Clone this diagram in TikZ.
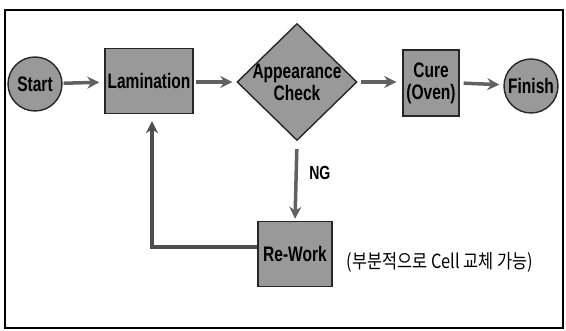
\documentclass[tikz,border=0pt]{standalone}
\usepackage{fontspec}
\usetikzlibrary{shapes.geometric,arrows.meta}
\setmainfont{Liberation Sans}
\newfontfamily\flowfont[FakeStretch=0.74]{Liberation Sans}
\newfontfamily\krfont[FakeStretch=0.84]{Noto Sans CJK KR}
\definecolor{dotgray}{gray}{0.6}
\definecolor{arrowgray}{gray}{0.38}

\begin{document}
\begin{tikzpicture}[x=1pt,y=-1pt,
    shapefill/.style={draw=black!85, line width=1.4pt, fill=dotgray},
    lbl/.style={font=\flowfont\bfseries\fontsize{21}{22}\selectfont, align=center},
    procbox/.style={shapefill, lbl, rectangle, inner sep=0pt},
    termcirc/.style={shapefill, lbl, circle, inner sep=0pt, minimum size=54},
    chkbox/.style={shapefill, diamond, inner sep=0pt, minimum width=120, minimum height=117},
    flowarrow/.style={-{Stealth[length=12pt,width=12pt]}, line width=3.5pt, arrowgray}]
    \useasboundingbox (0,0) rectangle (566,331);

    % Frame
    \draw[line width=2pt] (5,10) rectangle (563,328);

    % Start / Finish
    \node[termcirc] (start) at (35,84) {Start};
    \node[termcirc] (finish) at (531,86) {Finish};

    % Process steps
    \node[procbox, minimum width=88, minimum height=65] (lam) at (149,81) {Lamination};
    \node[procbox, minimum width=56, minimum height=66] (cure) at (431,83) {Cure\\(Oven)};
    \node[procbox, minimum width=74, minimum height=65] (rw) at (295,254) {\raisebox{-5pt}{Re-Work}};

    % Check
    \node[chkbox] (chk) at (297,82) {};
    \node[lbl] (chktxt) at (chk) {Appearance\\Check};

    % Arrows
    \draw[flowarrow, shorten <=1pt, shorten >=5pt] (start) -- (lam);
    \draw[flowarrow, shorten <=2pt, shorten >=4pt] (lam.east |- chk) -- (chk.west);
    \draw[flowarrow, shorten <=3pt, shorten >=6pt] (chk.east) -- (cure.west |- chk);
    \draw[flowarrow, shorten <=4pt, shorten >=4pt] (cure.east) -- (finish);
    \draw[flowarrow, shorten <=8pt, shorten >=2pt] (chk.south) -- (rw.north)
        node[pos=0.4, right=8pt, text=black, font=\flowfont\bfseries\fontsize{19}{20}\selectfont] (ng) {NG};

    % Re-Work loop
    \draw[flowarrow, line width=4pt, arrowgray!80!black, shorten >=7pt]
        ([yshift=7pt]rw.west) -| ([xshift=3pt]lam.south);

    % Note
    \node[anchor=west, font=\krfont\fontsize{19.5}{21}\selectfont] (note) at (343,262)
        {(부분적으로 Cell 교체 가능)};
\end{tikzpicture}
\end{document}
